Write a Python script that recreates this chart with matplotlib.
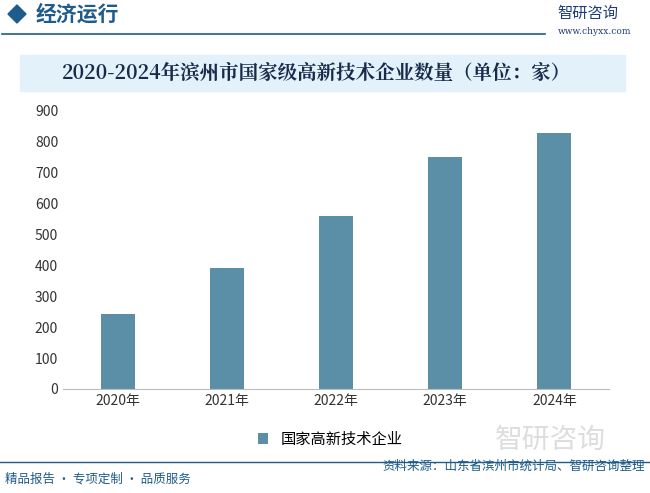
import matplotlib
matplotlib.use("Agg")
import matplotlib.pyplot as plt
from matplotlib.patches import Rectangle, Polygon

plt.rcParams["font.family"] = "Noto Sans CJK SC"

years = ["2020年", "2021年", "2022年", "2023年", "2024年"]
values = [243, 392, 560, 751, 828]
series_name = "国家高新技术企业"
yticks = [0, 100, 200, 300, 400, 500, 600, 700, 800, 900]

W, H = 650, 493
fig = plt.figure(figsize=(W/100, H/100), dpi=100)
fig.patch.set_facecolor("white")

def fx(x): return x / W
def fy(y): return 1 - y / H

# header
fig.add_artist(Polygon([[fx(8), fy(14)], [fx(17), fy(5)], [fx(26), fy(14)], [fx(17), fy(23)]],
                       closed=True, color="#1f5c8b", transform=fig.transFigure))
fig.text(fx(36), fy(14), "经济运行", fontsize=15, color="#1f5c8b", fontweight="bold", va="center")
fig.add_artist(plt.Line2D([fx(2), fx(545)], [fy(34), fy(34)], color="#1f5c8b", lw=1.2, transform=fig.transFigure))
fig.text(fx(557), fy(13), "智研咨询", fontsize=11, color="#1f3c7a", va="center")
fig.text(fx(558), fy(32), "www.chyxx.com", fontsize=6.5, color="#1f3c7a", va="center", family="DejaVu Serif")

# title band
fig.add_artist(Rectangle((fx(20), fy(91)), fx(605), 36/H, color="#e3f1fb", transform=fig.transFigure))
fig.text(fx(316), fy(73), "2020-2024年滨州市国家级高新技术企业数量（单位：家）", fontsize=14,
         color="#1a2a4a", fontweight="bold", ha="center", va="center", family="Noto Serif CJK SC")

ax = fig.add_axes([fx(63), fy(389), fx(546), 278/H])
ax.bar(range(len(years)), values, width=0.31, color="#5b8fa8", label=series_name)
ax.set_xlim(-0.5, len(years) - 0.5)
ax.set_ylim(0, 900)
ax.set_yticks(yticks)
ax.set_xticks(range(len(years)))
ax.set_xticklabels(years)
ax.tick_params(axis="both", length=0, labelsize=10, colors="#333333")
for s in ["top", "right", "left"]:
    ax.spines[s].set_visible(False)
ax.spines["bottom"].set_color("#bbbbbb")
ax.legend(loc="center", bbox_to_anchor=(fx(330 - 63) / fx(546), -0.18), frameon=False, fontsize=11,
          handlelength=0.7, handleheight=0.7)

# footer
fig.add_artist(plt.Line2D([fx(0), fx(650)], [fy(462), fy(462)], color="#1f5c8b", lw=1, transform=fig.transFigure))
fig.text(fx(5), fy(479), "精品报告 · 专项定制 · 品质服务", fontsize=9, color="#1f5c8b", va="center")
fig.text(fx(645), fy(466), "资料来源：山东省滨州市统计局、智研咨询整理", fontsize=9, color="#1f5c8b", va="center", ha="right")
fig.text(fx(495), fy(440), "智研咨询", fontsize=20, color="#dddddd", va="center", zorder=0)

fig.savefig("out.png", dpi=100)
